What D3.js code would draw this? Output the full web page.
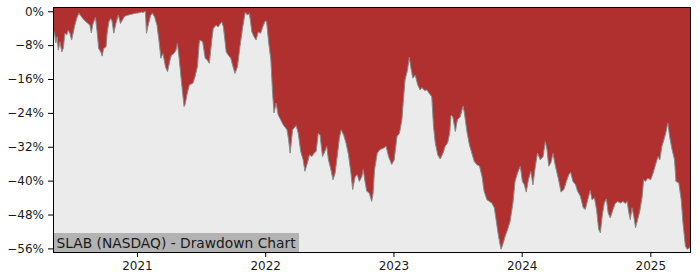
<!DOCTYPE html>
<html>
<head>
<meta charset="utf-8">
<script src="https://cdn.jsdelivr.net/npm/d3@7"></script>
<style>
body { margin: 0; background: #fff; }
svg { display: block; font-family: "DejaVu Sans", sans-serif; }
</style>
</head>
<body>
<script>
var g_width = 700
var g_height = 280
var margin = { left: 53, right: 10, top: 7, bottom: 28 }

var title = "SLAB (NASDAQ) - Drawdown Chart"

// y tick values (percent)
var yTicks = [0, -8, -16, -24, -32, -40, -48, -56]

// drawdown series
var dates = [
"2020-05-07","2020-05-11","2020-05-15","2020-05-19","2020-05-22","2020-05-27","2020-06-01","2020-06-05","2020-06-10","2020-06-15",
"2020-06-19","2020-06-24","2020-06-29","2020-07-04","2020-07-08","2020-07-15","2020-07-20","2020-07-27","2020-08-06","2020-08-12",
"2020-08-20","2020-08-24","2020-08-29","2020-09-05","2020-09-10","2020-09-14","2020-09-20","2020-09-24","2020-09-28","2020-10-05",
"2020-10-08","2020-10-13","2020-10-18","2020-10-22","2020-10-27","2020-11-02","2020-11-09","2020-11-15","2020-11-21","2020-11-27",
"2020-12-07","2020-12-17","2020-12-26","2021-01-04","2021-01-14","2021-01-18","2021-01-25","2021-01-28","2021-02-02","2021-02-09",
"2021-02-14","2021-02-20","2021-02-27","2021-03-05","2021-03-10","2021-03-16","2021-03-23","2021-03-29","2021-04-05","2021-04-09",
"2021-04-16","2021-04-22","2021-04-26","2021-05-01","2021-05-08","2021-05-15","2021-05-18","2021-05-24","2021-05-30","2021-06-09",
"2021-06-15","2021-06-22","2021-06-27","2021-06-29","2021-07-07","2021-07-14","2021-07-20","2021-07-26","2021-08-02","2021-08-06",
"2021-08-14","2021-08-20","2021-08-30","2021-09-04","2021-09-12","2021-09-18","2021-09-25","2021-09-30","2021-10-07","2021-10-14",
"2021-10-21","2021-10-29","2021-11-05","2021-11-12","2021-11-17","2021-11-24","2021-11-30","2021-12-06","2021-12-12","2021-12-19",
"2021-12-25","2022-01-01","2022-01-05","2022-01-10","2022-01-17","2022-01-22","2022-01-26","2022-02-01","2022-02-07","2022-02-12",
"2022-02-21","2022-03-04","2022-03-08","2022-03-13","2022-03-20","2022-03-30","2022-04-05","2022-04-12","2022-04-19","2022-04-24",
"2022-05-01","2022-05-07","2022-05-14","2022-05-20","2022-05-26","2022-06-01","2022-06-06","2022-06-13","2022-06-18","2022-06-25",
"2022-06-30","2022-07-07","2022-07-13","2022-07-19","2022-07-26","2022-07-31","2022-08-05","2022-08-12","2022-08-19","2022-08-26",
"2022-09-02","2022-09-07","2022-09-14","2022-09-20","2022-09-26","2022-10-03","2022-10-07","2022-10-12","2022-10-17","2022-10-24",
"2022-10-31","2022-11-04","2022-11-08","2022-11-16","2022-11-23","2022-12-04","2022-12-11","2022-12-18","2022-12-27","2023-01-03",
"2023-01-11","2023-01-18","2023-01-25","2023-01-30","2023-02-03","2023-02-10","2023-02-15","2023-02-19","2023-02-25","2023-03-04",
"2023-03-11","2023-03-18","2023-03-23","2023-03-30","2023-04-06","2023-04-13","2023-04-20","2023-04-25","2023-04-30","2023-05-07",
"2023-05-14","2023-05-22","2023-05-28","2023-06-04","2023-06-10","2023-06-14","2023-06-19","2023-06-26","2023-07-02","2023-07-10",
"2023-07-18","2023-07-22","2023-07-29","2023-08-05","2023-08-12","2023-08-19","2023-08-26","2023-09-03","2023-09-10","2023-09-16",
"2023-09-24","2023-10-01","2023-10-08","2023-10-15","2023-10-20","2023-10-27","2023-11-03","2023-11-08","2023-11-15","2023-11-22",
"2023-11-29","2023-12-07","2023-12-13","2023-12-20","2023-12-28","2024-01-03","2024-01-08","2024-01-14","2024-01-20","2024-01-27",
"2024-02-02","2024-02-09","2024-02-15","2024-02-23","2024-03-02","2024-03-08","2024-03-13","2024-03-18","2024-03-24","2024-03-30",
"2024-04-06","2024-04-15","2024-04-22","2024-04-30","2024-05-07","2024-05-14","2024-05-19","2024-05-26","2024-06-02","2024-06-08",
"2024-06-16","2024-06-24","2024-06-30","2024-07-07","2024-07-14","2024-07-19","2024-07-26","2024-08-01","2024-08-07","2024-08-12",
"2024-08-17","2024-08-23","2024-08-29","2024-09-03","2024-09-09","2024-09-17","2024-09-23","2024-09-30","2024-10-08","2024-10-15",
"2024-10-22","2024-10-27","2024-11-01","2024-11-05","2024-11-10","2024-11-15","2024-11-20","2024-11-26","2024-12-02","2024-12-09",
"2024-12-13","2024-12-18","2024-12-25","2025-01-02","2025-01-09","2025-01-16","2025-01-23","2025-01-28","2025-02-03","2025-02-10",
"2025-02-15","2025-02-20","2025-02-25","2025-03-04","2025-03-11","2025-03-15","2025-03-23","2025-03-30","2025-04-04","2025-04-11",
"2025-04-16","2025-04-24"
]

var drawdown = [
-4.6,-4.9,-7.5,-6.0,-9.2,-7.2,-9.6,-8.8,-5.2,-5.6,
-4.5,-5.2,-6.8,-4.9,-3.3,-1.3,-0.5,-1.3,-2.3,-2.7,
-3.3,-5.1,-2.9,-1.5,-5.2,-8.8,-9.6,-10.6,-8.8,-8.4,
-5.2,-2.5,-1.7,-2.3,-5.2,-2.9,-0.9,-2.9,-2.0,-1.2,
-0.9,-0.7,-0.5,-0.4,-0.2,-0.3,0,-5.2,-3.3,-0.9,
-0.5,-1.3,-3.3,-7.2,-11.1,-10.0,-13.1,-14.3,-11.5,-10.4,
-10.0,-9.2,-7.6,-11.1,-17.0,-22.5,-22.0,-19.4,-17.4,-17.0,
-15.5,-13.1,-7.6,-6.8,-7.2,-11.1,-11.5,-12.3,-6.8,-4.1,
-3.3,-3.7,-2.5,-3.7,-9.6,-10.4,-11.1,-12.7,-14.7,-13.1,
-8.4,-3.7,-0.3,-0.9,-0.5,-4.9,-6.0,-6.8,-4.9,-5.2,
-3.7,-2.3,-2.5,-6.8,-11.5,-19.4,-24.0,-21.7,-24.5,-25.3,
-26.8,-28.0,-30.0,-33.5,-28.0,-27.0,-28.8,-33.1,-35.1,-37.8,
-35.8,-33.9,-34.3,-33.5,-33.1,-28.8,-29.2,-34.3,-33.5,-31.9,
-35.1,-37.4,-39.8,-38.2,-33.5,-30.0,-28.0,-29.2,-31.1,-33.9,
-38.2,-42.1,-39.0,-38.6,-40.2,-39.0,-37.4,-40.2,-42.5,-42.9,
-44.9,-43.0,-37.5,-33.5,-32.7,-32.3,-31.9,-34.3,-36.2,-35.1,
-29.6,-28.8,-25.6,-20.2,-16.2,-13.9,-10.9,-13.1,-15.8,-15.1,
-17.4,-18.6,-18.0,-18.7,-18.6,-19.4,-20.2,-27.2,-31.1,-33.9,
-34.9,-33.5,-31.9,-31.1,-28.8,-24.5,-24.9,-28.4,-25.6,-24.9,
-22.4,-24.1,-28.4,-31.5,-33.5,-35.5,-36.2,-36.6,-39.0,-42.5,
-44.5,-44.9,-45.3,-46.4,-49.2,-53.1,-56.2,-55.1,-53.1,-51.5,
-49.6,-45.3,-40.2,-38.2,-36.6,-40.2,-40.9,-42.7,-39.8,-37.8,
-41.0,-36.5,-33.5,-35.1,-34.3,-30.8,-32.7,-36.6,-35.8,-33.6,
-36.6,-39.8,-42.7,-42.1,-40.2,-38.6,-38.0,-40.2,-40.9,-42.5,
-43.7,-46.4,-46.8,-44.5,-42.3,-44.5,-44.1,-46.8,-51.5,-52.3,
-48.4,-45.3,-44.3,-47.6,-48.8,-46.8,-45.4,-44.9,-45.3,-44.9,
-45.4,-44.9,-47.6,-49.2,-46.4,-48.4,-51.1,-49.2,-47.2,-43.7,
-39.8,-40.2,-39.4,-39.8,-38.2,-36.2,-34.3,-35.1,-31.9,-30.0,
-28.4,-26.4,-29.6,-32.7,-35.1,-40.2,-40.5,-44.5,-50.0,-55.5,
-56.2,-55.8
]

var parseDate = d3.timeParse("%Y-%m-%d")
var data = dates.map(function(d, i) { return { date: parseDate(d), value: drawdown[i] } })

var svg = d3.select("body").append("svg")
    .attr("width", g_width)
    .attr("height", g_height)

var plotW = g_width - margin.left - margin.right
var plotH = g_height - margin.top - margin.bottom

var xScale = d3.scaleTime()
    .domain(d3.extent(data, function(d) { return d.date }))
    .range([margin.left, margin.left + plotW])

var yScale = d3.scaleLinear()
    .domain([-56.85, 1.0])
    .range([margin.top + plotH, margin.top])

// plot background
svg.append("rect")
    .attr("x", margin.left).attr("y", margin.top)
    .attr("width", plotW).attr("height", plotH)
    .attr("fill", "#ebebeb")

svg.append("clipPath").attr("id", "clip")
  .append("rect")
    .attr("x", margin.left).attr("y", margin.top)
    .attr("width", plotW).attr("height", plotH)

// red fill goes from the top of the plot down to the curve
var area = d3.area()
    .x(function(d) { return xScale(d.date) })
    .y0(yScale(yScale.domain()[1]))
    .y1(function(d) { return yScale(d.value) })

var line = d3.line()
    .x(function(d) { return xScale(d.date) })
    .y(function(d) { return yScale(d.value) })

var plot = svg.append("g").attr("clip-path", "url(#clip)")

plot.append("path")
    .datum(data)
    .attr("d", area)
    .attr("fill", "#b03030")

plot.append("path")
    .datum(data)
    .attr("d", line)
    .attr("fill", "none")
    .attr("stroke", "#8a8a8a")
    .attr("stroke-width", 1)

// title box bottom left
var box = svg.append("g")
box.append("rect")
    .attr("x", margin.left).attr("y", 233)
    .attr("width", 246).attr("height", margin.top + plotH - 233)
    .attr("fill", "#b3b3b3")
box.append("text")
    .attr("x", margin.left + 3.5).attr("y", 247.5)
    .attr("font-size", "13.8px")
    .attr("fill", "#1a1a1a")
    .text(title)

// frame
svg.append("rect")
    .attr("x", margin.left).attr("y", margin.top)
    .attr("width", plotW).attr("height", plotH)
    .attr("fill", "none")
    .attr("stroke", "#000")
    .attr("stroke-width", 1)
    .attr("shape-rendering", "crispEdges")

// axes
var yAxis = d3.axisLeft(yScale)
    .tickValues(yTicks)
    .tickSize(5)
    .tickPadding(4)
    .tickFormat(function(d) { return (d < 0 ? "\u2212" : "") + Math.abs(d) + "%" })

var xAxis = d3.axisBottom(xScale)
    .ticks(d3.timeYear.every(1))
    .tickSize(5)
    .tickPadding(4)
    .tickFormat(d3.timeFormat("%Y"))

var yAxisPlot = svg.append("g")
    .attr("transform", "translate(" + margin.left + ",0)")
    .call(yAxis)

var xAxisPlot = svg.append("g")
    .attr("transform", "translate(0," + (margin.top + plotH) + ")")
    .call(xAxis)

svg.selectAll(".domain").remove()
svg.selectAll(".tick text")
    .attr("font-family", "DejaVu Sans, sans-serif")
    .attr("font-size", "12px")
    .attr("fill", "#1a1a1a")
svg.selectAll(".tick line").attr("stroke", "#000")
</script>
</body>
</html>
